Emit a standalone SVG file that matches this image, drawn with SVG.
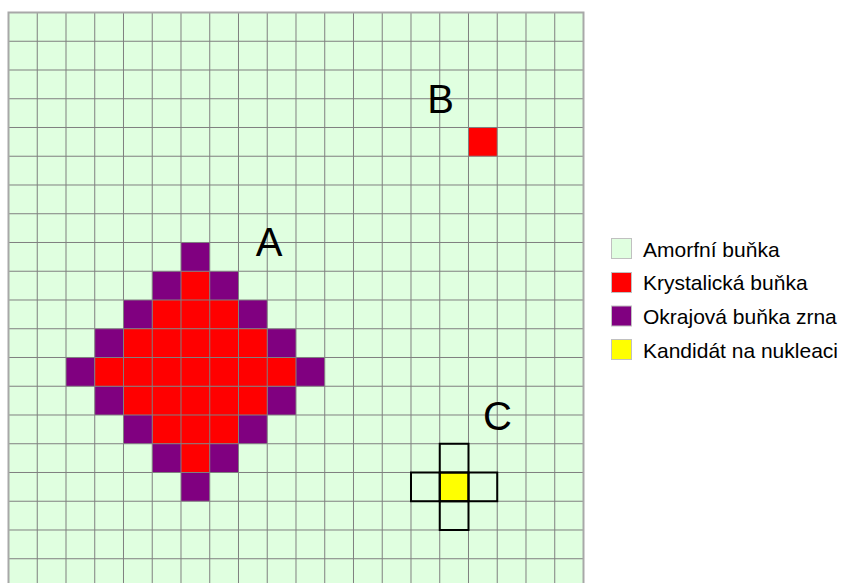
<svg xmlns="http://www.w3.org/2000/svg" width="841" height="583" viewBox="0 0 841 583">
<style>
.lbl{font-family:"Liberation Sans",Arial,sans-serif;font-size:40px;fill:#000;text-anchor:middle}
.leg{font-family:"Liberation Sans",Arial,sans-serif;font-size:21px;fill:#000}
.grid{fill:none;stroke:#808080;stroke-width:1}
.red{fill:#ff0000}
.pur{fill:#800080}
.yel{fill:#ffff00}
.cand{fill:none;stroke:#000;stroke-width:2}
.sw{stroke:#c0c0c0;stroke-width:1}
</style>
<rect width="841" height="583" fill="#fff"/>
<g id="grid-background">
<rect x="8.5" y="12.5" width="575" height="575" fill="#e0ffe0"/>
</g>
<g transform="translate(8.5,12.5) scale(28.75)">
<g id="grain-A">
<rect class="red" x="6" y="9" width="1" height="1"/>
<rect class="red" x="5" y="10" width="3" height="1"/>
<rect class="red" x="4" y="11" width="5" height="1"/>
<rect class="red" x="3" y="12" width="7" height="1"/>
<rect class="red" x="4" y="13" width="5" height="1"/>
<rect class="red" x="5" y="14" width="3" height="1"/>
<rect class="red" x="6" y="15" width="1" height="1"/>
<rect class="pur" x="6" y="8" width="1" height="1"/>
<rect class="pur" x="5" y="9" width="1" height="1"/>
<rect class="pur" x="7" y="9" width="1" height="1"/>
<rect class="pur" x="4" y="10" width="1" height="1"/>
<rect class="pur" x="8" y="10" width="1" height="1"/>
<rect class="pur" x="3" y="11" width="1" height="1"/>
<rect class="pur" x="9" y="11" width="1" height="1"/>
<rect class="pur" x="2" y="12" width="1" height="1"/>
<rect class="pur" x="10" y="12" width="1" height="1"/>
<rect class="pur" x="3" y="13" width="1" height="1"/>
<rect class="pur" x="9" y="13" width="1" height="1"/>
<rect class="pur" x="4" y="14" width="1" height="1"/>
<rect class="pur" x="8" y="14" width="1" height="1"/>
<rect class="pur" x="5" y="15" width="1" height="1"/>
<rect class="pur" x="7" y="15" width="1" height="1"/>
<rect class="pur" x="6" y="16" width="1" height="1"/>
</g>
<g id="grain-B">
<rect class="red" x="16" y="4" width="1" height="1"/>
</g>
<g id="nucleus-C-fill">
<rect class="yel" x="15" y="16" width="1" height="1"/>
</g>
<g id="grid-lines">
<path class="grid" vector-effect="non-scaling-stroke" d="M1 0V20M2 0V20M3 0V20M4 0V20M5 0V20M6 0V20M7 0V20M8 0V20M9 0V20M10 0V20M11 0V20M12 0V20M13 0V20M14 0V20M15 0V20M16 0V20M17 0V20M18 0V20M19 0V20M0 1H20M0 2H20M0 3H20M0 4H20M0 5H20M0 6H20M0 7H20M0 8H20M0 9H20M0 10H20M0 11H20M0 12H20M0 13H20M0 14H20M0 15H20M0 16H20M0 17H20M0 18H20M0 19H20"/>
<rect x="0" y="0" width="20" height="20" fill="none" stroke="#a8a8a8" stroke-width="2" vector-effect="non-scaling-stroke"/>
</g>
<g id="nucleus-C">
<rect class="cand" vector-effect="non-scaling-stroke" x="15" y="15" width="1" height="1"/>
<rect class="cand" vector-effect="non-scaling-stroke" x="14" y="16" width="1" height="1"/>
<rect class="cand" vector-effect="non-scaling-stroke" x="15" y="16" width="1" height="1"/>
<rect class="cand" vector-effect="non-scaling-stroke" x="16" y="16" width="1" height="1"/>
<rect class="cand" vector-effect="non-scaling-stroke" x="15" y="17" width="1" height="1"/>
</g>
</g>
<g id="labels">
<text class="lbl" x="269" y="256">A</text>
<text class="lbl" x="440.5" y="113">B</text>
<text class="lbl" x="497.5" y="430">C</text>
</g>
<g id="legend">
<g id="legend-amorphous">
<rect class="sw" x="611.5" y="238.5" width="20" height="20" fill="#e0ffe0"/>
<text class="leg" x="643" y="256.5">Amorfní buňka</text>
</g>
<g id="legend-crystal">
<rect class="sw" x="611.5" y="272.5" width="20" height="20" fill="#ff0000"/>
<text class="leg" x="643" y="290">Krystalická buňka</text>
</g>
<g id="legend-boundary">
<rect class="sw" x="611.5" y="306" width="20" height="20" fill="#800080"/>
<text class="leg" x="643" y="324">Okrajová buňka zrna</text>
</g>
<g id="legend-candidate">
<rect class="sw" x="611.5" y="339.5" width="20" height="20" fill="#ffff00"/>
<text class="leg" x="643" y="357.5">Kandidát na nukleaci</text>
</g>
</g>
</svg>
